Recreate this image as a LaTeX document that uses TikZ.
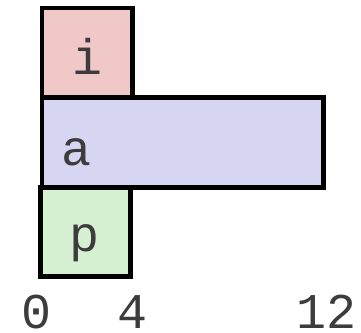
\documentclass[tikz,border=0pt]{standalone}
\usepackage{fontspec}
\setmonofont{Liberation Mono}
\definecolor{ipink}{RGB}{240,200,200}
\definecolor{alav}{RGB}{214,214,243}
\definecolor{pgreen}{RGB}{214,240,210}
\definecolor{txt}{RGB}{60,60,60}
\begin{document}
\begin{tikzpicture}[x=1pt,y=-1pt,
  blk/.style={draw=black,line width=4.5pt},
  lbl/.style={text=txt,font=\fontsize{50}{50}\selectfont\ttfamily,anchor=base,inner sep=0pt},
  tick/.style={lbl,text depth=0pt}]
\useasboundingbox (0,0) rectangle (361,332);
\path[blk,fill=ipink] (42,8) rectangle (132.5,97.5);
\path[blk,fill=alav] (42,97.5) rectangle (323.5,187.5);
\path[blk,fill=pgreen] (40.5,187.5) rectangle (130.5,276.5);
\node[lbl] (ti) at (87.5,74) {i};
\node[lbl] (ta) at (77,165) {a};
\node[lbl] (tp) at (85,251) {p};
\node[tick] (t0) at (37,328) {0};
\node[tick] (t4) at (133,328) {4};
\node[tick] (t12) at (327,328) {12};
\end{tikzpicture}
\end{document}
